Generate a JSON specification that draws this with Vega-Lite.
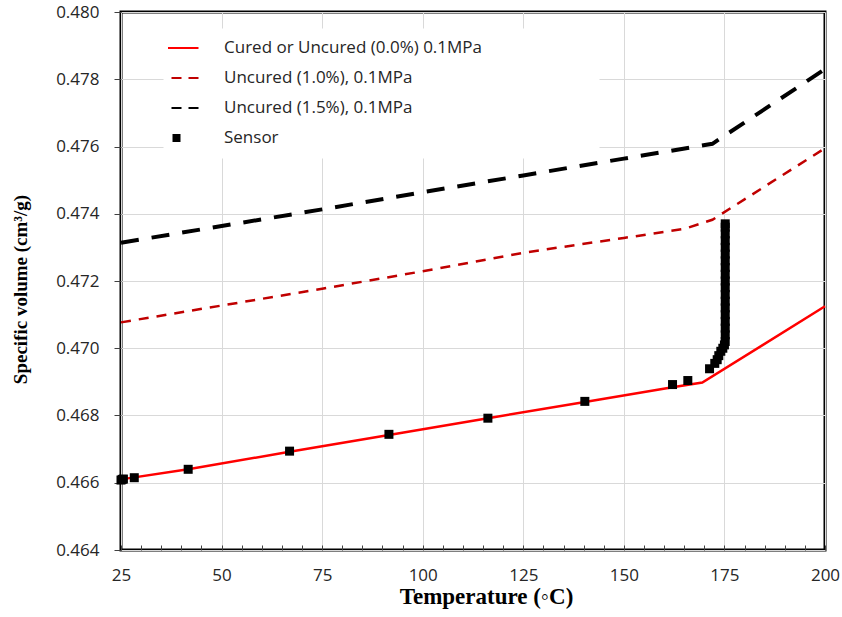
{
  "$schema": "https://vega.github.io/schema/vega-lite/v6.json",
  "width": 704,
  "height": 538,
  "autosize": {"type": "none"},
  "padding": {"left": 121, "top": 12, "right": 17, "bottom": 67},
  "background": "white",
  "data": {
    "values": [
      {"series": "Cured or Uncured (0.0%) 0.1MPa", "T": 25, "v": 0.4661},
      {"series": "Cured or Uncured (0.0%) 0.1MPa", "T": 41.7, "v": 0.4664},
      {"series": "Cured or Uncured (0.0%) 0.1MPa", "T": 66.9, "v": 0.46692},
      {"series": "Cured or Uncured (0.0%) 0.1MPa", "T": 91.6, "v": 0.46742},
      {"series": "Cured or Uncured (0.0%) 0.1MPa", "T": 116.2, "v": 0.46792},
      {"series": "Cured or Uncured (0.0%) 0.1MPa", "T": 140.3, "v": 0.4684},
      {"series": "Cured or Uncured (0.0%) 0.1MPa", "T": 162.1, "v": 0.46884},
      {"series": "Cured or Uncured (0.0%) 0.1MPa", "T": 169.5, "v": 0.46898},
      {"series": "Cured or Uncured (0.0%) 0.1MPa", "T": 200, "v": 0.47125},
      {"series": "Uncured (1.0%), 0.1MPa", "T": 25, "v": 0.47077},
      {"series": "Uncured (1.0%), 0.1MPa", "T": 50, "v": 0.47127},
      {"series": "Uncured (1.0%), 0.1MPa", "T": 75, "v": 0.47177},
      {"series": "Uncured (1.0%), 0.1MPa", "T": 100, "v": 0.47229},
      {"series": "Uncured (1.0%), 0.1MPa", "T": 125, "v": 0.47284},
      {"series": "Uncured (1.0%), 0.1MPa", "T": 150, "v": 0.47328},
      {"series": "Uncured (1.0%), 0.1MPa", "T": 165, "v": 0.47355},
      {"series": "Uncured (1.0%), 0.1MPa", "T": 172, "v": 0.47382},
      {"series": "Uncured (1.0%), 0.1MPa", "T": 200, "v": 0.47595},
      {"series": "Uncured (1.5%), 0.1MPa", "T": 25, "v": 0.47314},
      {"series": "Uncured (1.5%), 0.1MPa", "T": 75, "v": 0.47413},
      {"series": "Uncured (1.5%), 0.1MPa", "T": 100, "v": 0.47464},
      {"series": "Uncured (1.5%), 0.1MPa", "T": 125, "v": 0.47514},
      {"series": "Uncured (1.5%), 0.1MPa", "T": 150, "v": 0.47564},
      {"series": "Uncured (1.5%), 0.1MPa", "T": 172, "v": 0.47608},
      {"series": "Uncured (1.5%), 0.1MPa", "T": 200, "v": 0.4783},
      {"series": "Sensor", "T": 25.0, "v": 0.46608},
      {"series": "Sensor", "T": 25.3, "v": 0.4661},
      {"series": "Sensor", "T": 25.6, "v": 0.46611},
      {"series": "Sensor", "T": 28.3, "v": 0.46615},
      {"series": "Sensor", "T": 41.7, "v": 0.4664},
      {"series": "Sensor", "T": 66.9, "v": 0.46694},
      {"series": "Sensor", "T": 91.6, "v": 0.46744},
      {"series": "Sensor", "T": 116.2, "v": 0.46792},
      {"series": "Sensor", "T": 140.3, "v": 0.46842},
      {"series": "Sensor", "T": 162.1, "v": 0.46892},
      {"series": "Sensor", "T": 165.9, "v": 0.46904},
      {"series": "Sensor", "T": 171.3, "v": 0.46939},
      {"series": "Sensor", "T": 172.6, "v": 0.46955},
      {"series": "Sensor", "T": 173.2, "v": 0.46966},
      {"series": "Sensor", "T": 173.6, "v": 0.46978},
      {"series": "Sensor", "T": 174.1, "v": 0.46991},
      {"series": "Sensor", "T": 174.6, "v": 0.47},
      {"series": "Sensor", "T": 175.0, "v": 0.4701},
      {"series": "Sensor", "T": 175.2, "v": 0.4702},
      {"series": "Sensor", "T": 175.2, "v": 0.4704},
      {"series": "Sensor", "T": 175.2, "v": 0.4706},
      {"series": "Sensor", "T": 175.2, "v": 0.4708},
      {"series": "Sensor", "T": 175.2, "v": 0.471},
      {"series": "Sensor", "T": 175.2, "v": 0.4712},
      {"series": "Sensor", "T": 175.2, "v": 0.4714},
      {"series": "Sensor", "T": 175.2, "v": 0.4716},
      {"series": "Sensor", "T": 175.2, "v": 0.4718},
      {"series": "Sensor", "T": 175.2, "v": 0.472},
      {"series": "Sensor", "T": 175.2, "v": 0.4722},
      {"series": "Sensor", "T": 175.2, "v": 0.4724},
      {"series": "Sensor", "T": 175.2, "v": 0.4726},
      {"series": "Sensor", "T": 175.2, "v": 0.4728},
      {"series": "Sensor", "T": 175.2, "v": 0.473},
      {"series": "Sensor", "T": 175.2, "v": 0.4732},
      {"series": "Sensor", "T": 175.2, "v": 0.4734},
      {"series": "Sensor", "T": 175.2, "v": 0.4736},
      {"series": "Sensor", "T": 175.2, "v": 0.4737}
    ]
  },
  "encoding": {
    "x": {
      "field": "T", "type": "quantitative",
      "scale": {"domain": [25, 200], "nice": false, "zero": false},
      "axis": {
        "title": "Temperature (◦C)",
        "titleFontSize": 23,
        "titleX": 365,
        "titleY": 53,
        "titleAlign": "center",
        "titleBaseline": "alphabetic",
        "values": [25,30,35,40,45,50,55,60,65,70,75,80,85,90,95,100,105,110,115,120,125,130,135,140,145,150,155,160,165,170,175,180,185,190,195,200],
        "labelExpr": "datum.value % 25 === 0 ? datum.label : ''",
        "gridColor": {"condition": {"test": "datum.value % 25 === 0", "value": "#d9d9d9"}, "value": "rgba(0,0,0,0)"},
        "tickSize": -5,
        "labelPadding": 22,
        "labelFlush": false,
        "labelOverlap": false
      }
    },
    "y": {
      "field": "v", "type": "quantitative",
      "scale": {"domain": [0.464, 0.48], "nice": false, "zero": false},
      "axis": {
        "title": "Specific volume (cm³/g)",
        "titleFontSize": 19,
        "titleX": -101,
        "titleY": 277,
        "titleBaseline": "middle",
        "titleAlign": "center",
        "values": [0.464, 0.466, 0.468, 0.47, 0.472, 0.474, 0.476, 0.478, 0.48],
        "format": ".3f",
        "tickSize": 7,
        "labelPadding": 15,
        "labelFlush": false,
        "labelOverlap": false
      }
    },
    "color": {
      "field": "series", "type": "nominal",
      "scale": {
        "domain": ["Cured or Uncured (0.0%) 0.1MPa", "Uncured (1.0%), 0.1MPa", "Uncured (1.5%), 0.1MPa", "Sensor"],
        "range": ["#ff0000", "#c00000", "#000000", "#000000"]
      },
      "legend": {
        "title": "Legend",
        "titleOrient": "right",
        "titleFontSize": 30,
        "titleOpacity": 0,
        "titlePadding": 5,
        "orient": "none",
        "legendX": 42,
        "legendY": 16,
        "fillColor": "white",
        "strokeColor": "rgba(0,0,0,0)",
        "padding": 5,
        "symbolSize": 1936,
        "clipHeight": 30,
        "rowPadding": 0,
        "labelOffset": 39,
        "labelFont": "Open Sans",
        "labelFontSize": 17,
        "labelColor": "#262626",
        "labelLimit": 400,
        "encode": {
          "symbols": {
            "update": {
              "shape": {"signal": "datum.value === 'Sensor' ? 'square' : 'stroke'"},
              "size": {"signal": "datum.value === 'Sensor' ? 64 : 1936"},
              "strokeDash": {"signal": "(datum.value === 'Uncured (1.0%), 0.1MPa' || datum.value === 'Uncured (1.5%), 0.1MPa') ? [10, 7] : [1, 0]"},
              "strokeWidth": {"signal": "datum.value === 'Sensor' ? 0 : 2"},
              "stroke": {"signal": "datum.value === 'Cured or Uncured (0.0%) 0.1MPa' ? '#ff0000' : (datum.value === 'Uncured (1.0%), 0.1MPa' ? '#c00000' : '#000000')"},
              "fill": {"signal": "datum.value === 'Sensor' ? '#000000' : 'rgba(0,0,0,0)'"},
              "opacity": {"value": 1}
            }
          }
        }
      }
    }
  },
  "layer": [
    {
      "transform": [{"filter": {"field": "series", "equal": "Cured or Uncured (0.0%) 0.1MPa"}}],
      "mark": {"type": "line", "strokeWidth": 2.5}
    },
    {
      "transform": [{"filter": {"field": "series", "equal": "Uncured (1.0%), 0.1MPa"}}],
      "mark": {"type": "line", "strokeWidth": 2.5, "strokeDash": [10, 8]}
    },
    {
      "transform": [{"filter": {"field": "series", "equal": "Uncured (1.5%), 0.1MPa"}}],
      "mark": {"type": "line", "strokeWidth": 4, "strokeDash": [18, 13]}
    },
    {
      "transform": [{"filter": {"field": "series", "equal": "Sensor"}}],
      "mark": {"type": "point", "shape": "square", "filled": true, "size": 81, "opacity": 1}
    }
  ],
  "config": {
    "view": {"stroke": "black", "strokeWidth": 3},
    "axis": {
      "domain": false,
      "grid": true,
      "gridColor": "#d9d9d9",
      "gridWidth": 1,
      "labelFont": "Open Sans",
      "labelFontSize": 17,
      "labelColor": "#262626",
      "titleFont": "Liberation Serif",
      "titleFontWeight": "bold",
      "titleColor": "black",
      "tickColor": "#404040"
    }
  }
}
